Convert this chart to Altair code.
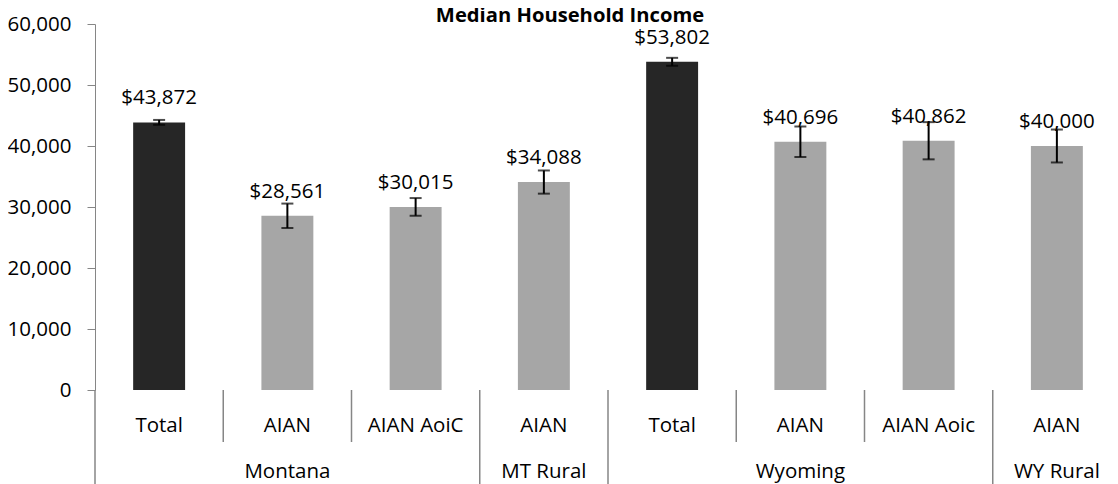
import altair as alt
import pandas as pd

groups = ["Montana", "Montana", "Montana", "MT Rural", "Wyoming", "Wyoming", "Wyoming", "WY Rural"]
cats = ["Total", "AIAN", "AIAN AoiC", "AIAN", "Total", "AIAN", "AIAN Aoic", "AIAN"]
values = [43872, 28561, 30015, 34088, 53802, 40696, 40862, 40000]
errs = [400, 2000, 1450, 1900, 650, 2500, 3050, 2700]
y_ticks = [0, 10000, 20000, 30000, 40000, 50000, 60000]
title_text = ["Median Household Income"]

n = len(cats)
df = pd.DataFrame({
    "idx": list(range(n)),
    "cat": cats,
    "group": groups,
    "value": values,
    "lo": [v - e for v, e in zip(values, errs)],
    "hi": [v + e for v, e in zip(values, errs)],
    "kind": ["total" if c == "Total" else "sub" for c in cats],
})

# group label at middle band of each run; separators at band starts
grp_rows, sep_rows = [], []
start = 0
for i in range(n + 1):
    if i == n or groups[i] != groups[start]:
        grp_rows.append({"idx": (start + i - 1) // 2, "group": groups[start]})
        start = i
for i in range(n):
    sep_rows.append({"idx": i, "long": i == 0 or groups[i] != groups[i - 1]})
grp_df = pd.DataFrame(grp_rows)
sep_df = pd.DataFrame(sep_rows)

FONT = "Open Sans"
FS = 20.5
GRAY = "#868686"
H = 366

xscale = alt.Scale(type="band", domain=list(range(n)), range=[0, 1026], paddingInner=0, paddingOuter=0)
yscale = alt.Scale(domain=[0, 60000], nice=False)

x_axis = alt.Axis(labels=False, ticks=False, title=None, domainColor=GRAY, grid=False)
y_axis = alt.Axis(values=y_ticks, format=",d", title=None, grid=False, domainColor=GRAY,
                  tickColor=GRAY, tickSize=8, labelFont=FONT, labelFontSize=FS,
                  labelColor="black", labelPadding=16)

bars = alt.Chart(df).mark_bar(width=alt.RelativeBandSize(0.405)).encode(
    x=alt.X("idx:O", scale=xscale, axis=x_axis),
    y=alt.Y("value:Q", scale=yscale, axis=y_axis),
    color=alt.Color("kind:N", scale=alt.Scale(domain=["total", "sub"], range=["#262626", "#A6A6A6"]), legend=None),
)

err_rule = alt.Chart(df).mark_rule(color="black", strokeWidth=2).encode(
    x=alt.X("idx:O", scale=xscale, axis=None),
    y=alt.Y("lo:Q", scale=yscale),
    y2="hi:Q",
)
cap_lo = alt.Chart(df).mark_tick(color="black", size=12, thickness=2).encode(
    x=alt.X("idx:O", scale=xscale, axis=None),
    y=alt.Y("lo:Q", scale=yscale),
)
cap_hi = alt.Chart(df).mark_tick(color="black", size=12, thickness=2).encode(
    x=alt.X("idx:O", scale=xscale, axis=None),
    y=alt.Y("hi:Q", scale=yscale),
)

labels = alt.Chart(df).mark_text(baseline="alphabetic", dy=-18, font=FONT, fontSize=FS, color="black").encode(
    x=alt.X("idx:O", scale=xscale, axis=None),
    y=alt.Y("value:Q", scale=yscale),
    text=alt.Text("value:Q", format="$,"),
)

cat_text = alt.Chart(df).mark_text(baseline="middle", font=FONT, fontSize=FS, color="black").encode(
    x=alt.X("idx:O", scale=xscale, axis=None),
    y=alt.value(H + 36),
    text="cat:N",
)
grp_text = alt.Chart(grp_df).mark_text(baseline="alphabetic", font=FONT, fontSize=FS, color="black").encode(
    x=alt.X("idx:O", scale=xscale, axis=None),
    y=alt.value(H + 88),
    text="group:N",
)

sep_short = alt.Chart(sep_df).transform_filter("!datum.long").mark_rule(color=GRAY, strokeWidth=1.5).encode(
    x=alt.X("idx:O", scale=xscale, axis=None, bandPosition=0),
    y=alt.value(H),
    y2=alt.value(H + 52),
)
sep_long = alt.Chart(sep_df).transform_filter("datum.long").mark_rule(color=GRAY, strokeWidth=1.5).encode(
    x=alt.X("idx:O", scale=xscale, axis=None, bandPosition=0),
    y=alt.value(H),
    y2=alt.value(H + 100),
)

title = alt.Chart(pd.DataFrame({"t": title_text})).mark_text(
    baseline="alphabetic", font=FONT, fontSize=20.2, fontWeight="bold", color="black"
).encode(
    x=alt.value(475),
    y=alt.value(-2.5),
    text="t:N",
)

chart = alt.layer(
    bars, err_rule, cap_lo, cap_hi, labels, cat_text, grp_text, sep_short, sep_long, title
).properties(
    width=1015,
    height=H,
    autosize=alt.AutoSizeParams(type="none"),
    padding={"left": 87, "top": 16, "right": 0, "bottom": 94},
).configure_view(stroke=None)

chart.save("out.html", embed_options={"renderer": "svg", "actions": False})
